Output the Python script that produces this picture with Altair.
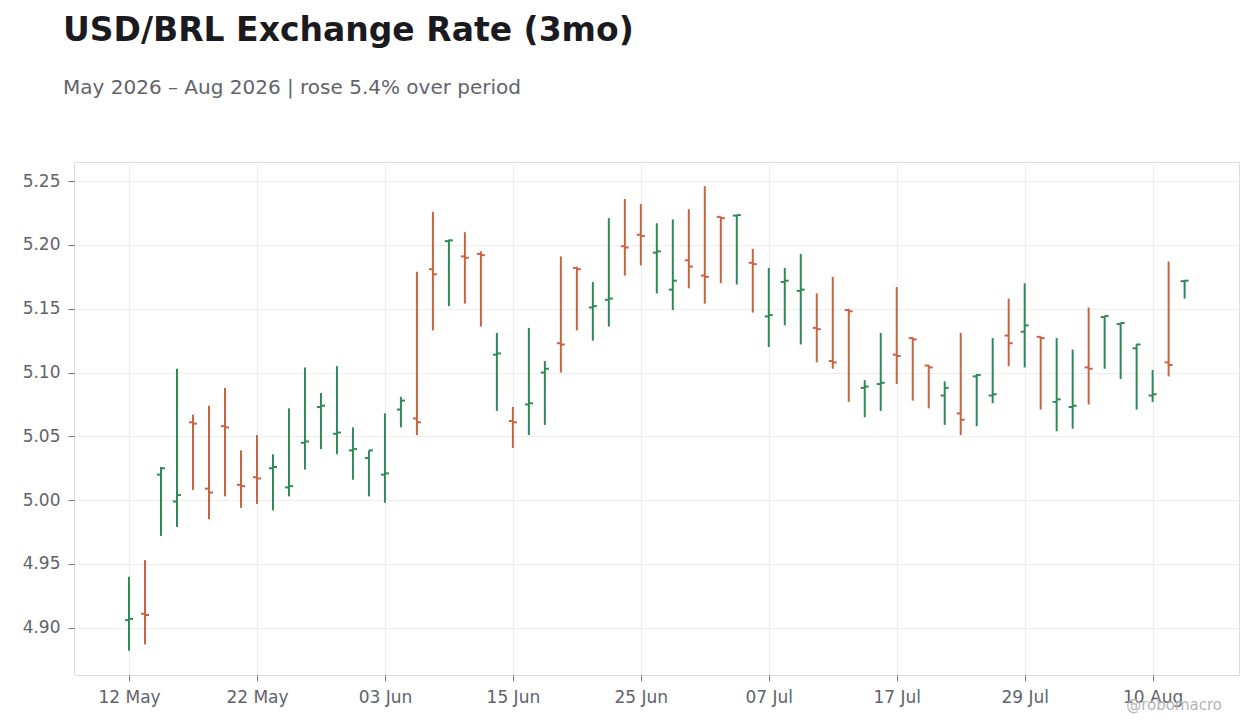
import altair as alt
import pandas as pd

# trading-day index 0..66 (12 May -> 12 Aug 2026), axis labelled every 8 sessions
TICK_LABELS = ["12 May", "22 May", "03 Jun", "15 Jun", "25 Jun",
               "07 Jul", "17 Jul", "29 Jul", "10 Aug"]

OPEN = [4.906, 4.911, 5.020, 4.999, 5.061, 5.009, 5.058, 5.012, 5.018, 5.025,
        5.010, 5.045, 5.073, 5.052, 5.039, 5.033, 5.020, 5.071, 5.064, 5.181,
        5.2030, 5.191, 5.193, 5.114, 5.062, 5.075, 5.100, 5.123, 5.182, 5.151,
        5.157, 5.199, 5.208, 5.194, 5.165, 5.188, 5.176, 5.222, 5.223, 5.186,
        5.144, 5.171, 5.164, 5.135, 5.109, 5.149, 5.088, 5.091, 5.114, 5.127,
        5.1055, 5.082, 5.068, 5.097, 5.082, 5.129, 5.132, 5.128, 5.077, 5.073,
        5.104, 5.1435, 5.138, 5.119, 5.082, 5.108, 5.1716]
HIGH = [4.940, 4.953, 5.026, 5.103, 5.067, 5.074, 5.088, 5.039, 5.051, 5.036,
        5.072, 5.104, 5.084, 5.105, 5.057, 5.039, 5.068, 5.081, 5.179, 5.226,
        5.2042, 5.210, 5.195, 5.131, 5.073, 5.135, 5.109, 5.191, 5.183, 5.171,
        5.221, 5.236, 5.232, 5.217, 5.220, 5.228, 5.246, 5.2222, 5.2236, 5.197,
        5.182, 5.182, 5.193, 5.162, 5.175, 5.150, 5.094, 5.131, 5.167, 5.1275,
        5.106, 5.093, 5.131, 5.099, 5.127, 5.158, 5.170, 5.1282, 5.127, 5.118,
        5.151, 5.1445, 5.1392, 5.1225, 5.102, 5.187, 5.1724]
LOW = [4.882, 4.887, 4.972, 4.979, 5.008, 4.985, 5.003, 4.994, 4.997, 4.992,
       5.003, 5.024, 5.040, 5.036, 5.016, 5.003, 4.998, 5.057, 5.051, 5.133,
       5.152, 5.154, 5.136, 5.070, 5.041, 5.051, 5.059, 5.100, 5.133, 5.125,
       5.136, 5.176, 5.184, 5.162, 5.149, 5.166, 5.154, 5.170, 5.169, 5.147,
       5.120, 5.137, 5.122, 5.108, 5.103, 5.077, 5.065, 5.070, 5.091, 5.078,
       5.072, 5.059, 5.051, 5.058, 5.076, 5.105, 5.104, 5.071, 5.054, 5.056,
       5.075, 5.103, 5.095, 5.071, 5.077, 5.097, 5.158]
CLOSE = [4.907, 4.910, 5.025, 5.004, 5.060, 5.006, 5.057, 5.011, 5.017, 5.026,
         5.011, 5.046, 5.074, 5.053, 5.040, 5.039, 5.021, 5.078, 5.061, 5.177,
         5.2036, 5.190, 5.192, 5.115, 5.061, 5.076, 5.103, 5.122, 5.181, 5.152,
         5.158, 5.198, 5.207, 5.195, 5.172, 5.183, 5.175, 5.221, 5.2234, 5.185,
         5.145, 5.172, 5.165, 5.134, 5.108, 5.148, 5.089, 5.092, 5.113, 5.126,
         5.104, 5.088, 5.063, 5.098, 5.083, 5.123, 5.137, 5.127, 5.079, 5.074,
         5.103, 5.1443, 5.1388, 5.122, 5.083, 5.106, 5.1720]

UP = "#2e8b57"
DOWN = "#cc6340"
FONT = "DejaVu Sans"

df = pd.DataFrame({"idx": range(len(OPEN)), "open": OPEN, "high": HIGH,
                   "low": LOW, "close": CLOSE})
df["dir"] = ["up" if c >= o else "down" for o, c in zip(OPEN, CLOSE)]

label_expr = "[" + ",".join(f"'{t}'" for t in TICK_LABELS) + "][round(datum.value / 8)]"
x = alt.X("idx:Q", title=None,
          scale=alt.Scale(domain=[-3.44, 69.4], nice=False, zero=False),
          axis=alt.Axis(values=list(range(0, 65, 8)), labelExpr=label_expr))
y = alt.Y("low:Q", title=None,
          scale=alt.Scale(domain=[4.863, 5.265], nice=False, zero=False),
          axis=alt.Axis(values=[4.90, 4.95, 5.00, 5.05, 5.10, 5.15, 5.20, 5.25], format=".2f"))
color = alt.Color("dir:N", scale=alt.Scale(domain=["up", "down"], range=[UP, DOWN]), legend=None)

base = alt.Chart(df)
wicks = base.mark_rule(strokeWidth=2).encode(x=x, y=y, y2="high:Q", color=color)
opens = base.mark_rule(strokeWidth=2, xOffset=-4, x2Offset=0).encode(
    x="idx:Q", x2="idx:Q", y="open:Q", color=color)
closes = base.mark_rule(strokeWidth=2, xOffset=0, x2Offset=4).encode(
    x="idx:Q", x2="idx:Q", y="close:Q", color=color)
credit = alt.Chart(pd.DataFrame({"t": ["@robomacro"]})).mark_text(
    align="right", baseline="middle", font=FONT, fontSize=15, color="#b4b4b8").encode(
    text="t:N", x=alt.value(1148), y=alt.value(543))

chart = (
    alt.layer(wicks, opens, closes, credit)
    .properties(
        width=1165, height=513,
        autosize=alt.AutoSizeParams(type="none"),
        padding={"left": 66, "top": 154, "right": 13, "bottom": 50},
        title=alt.TitleParams(
            "USD/BRL Exchange Rate (3mo)",
            subtitle="May 2026 – Aug 2026 | rose 5.4% over period",
            anchor="start", frame="group", dx=-11, offset=64,
            font=FONT, fontSize=33, fontWeight="bold", color="#1b1b1f",
            subtitleFont=FONT, subtitleFontSize=20, subtitleColor="#62646c",
            subtitlePadding=30),
    )
    .configure_view(stroke="#dddddd", strokeWidth=1)
    .configure_axis(labelFont=FONT, labelFontSize=17, labelColor="#5f636b",
                    domain=False, tickColor="#777777", tickSize=6, labelPadding=8,
                    gridColor="#eeeeee", gridWidth=1)
)

chart.save("out.html", embed_options={"renderer": "svg", "actions": False})
